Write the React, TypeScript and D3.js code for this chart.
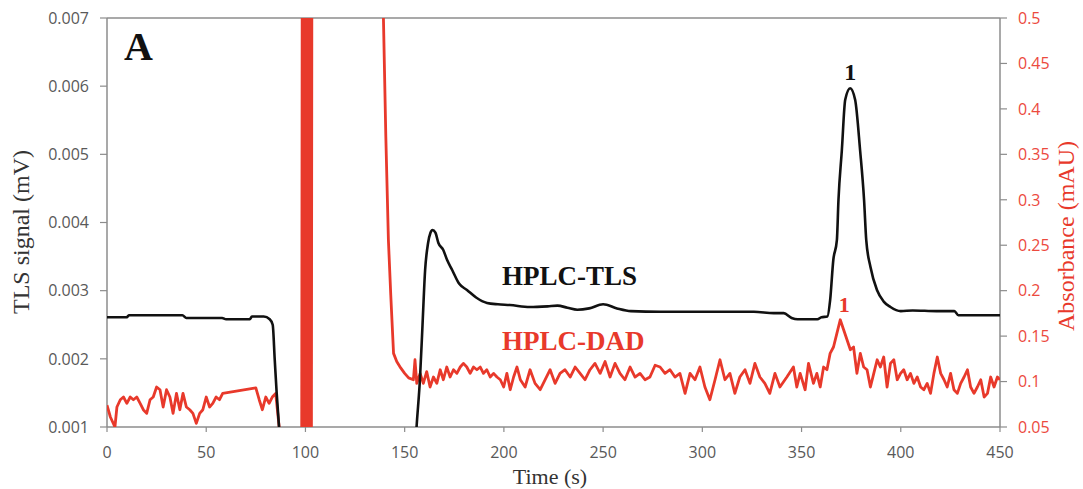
import React from 'react';
import * as d3 from 'd3';

// ---------- data ----------
const xTicks = [0, 50, 100, 150, 200, 250, 300, 350, 400, 450];
const leftTicks = [0.001, 0.002, 0.003, 0.004, 0.005, 0.006, 0.007];
const leftTickLabels = ['0.001', '0.002', '0.003', '0.004', '0.005', '0.006', '0.007'];
const rightTicks = [0.05, 0.1, 0.15, 0.2, 0.25, 0.3, 0.35, 0.4, 0.45, 0.5];
const rightTickLabels = ['0.05', '0.1', '0.15', '0.2', '0.25', '0.3', '0.35', '0.4', '0.45', '0.5'];

// HPLC-TLS signal (mV) vs time (s)
const tlsPoints: [number, number][] = [
  [0, 0.00261], [10, 0.00261], [11, 0.00264], [38, 0.00264], [40, 0.0026], [58, 0.0026],
  [60, 0.00258], [72, 0.00258], [73, 0.00262], [79, 0.00262], [82, 0.00258], [83.5, 0.0025],
  [84.5, 0.002], [85.5, 0.0015], [86.7, 0.001], [88, 0.0005], [155, 0.0005], [156, 0.001],
  [157.7, 0.0017], [159, 0.0025], [160.3, 0.0033], [161.8, 0.0037], [163, 0.00385], [164, 0.00389],
  [165.5, 0.00385], [167, 0.0037], [169.4, 0.0036], [171.4, 0.00345], [174, 0.0033], [177.5, 0.0031],
  [181.4, 0.00301], [186, 0.0029], [191.5, 0.00282], [197, 0.0028], [203, 0.00279], [213, 0.00276],
  [222, 0.00277], [227, 0.00278], [232, 0.00275], [237, 0.00272], [243, 0.00274], [250, 0.0028],
  [257, 0.00274], [264, 0.0027], [279, 0.00269], [326, 0.00269], [336, 0.00267], [341, 0.00267],
  [345, 0.0026], [348, 0.00258], [358, 0.00258], [360, 0.00261], [363, 0.00262], [364.4, 0.00286],
  [366, 0.00345], [367.8, 0.00374], [368.6, 0.00433], [370.3, 0.00506], [372, 0.0058], [374.5, 0.00597],
  [377, 0.0058], [379.5, 0.00506], [381.5, 0.00433], [382.6, 0.00374], [384.7, 0.00335], [388, 0.00301],
  [391.4, 0.00284], [394.8, 0.00276], [400, 0.0027], [406, 0.00271], [418, 0.0027], [427, 0.0027],
  [429, 0.00264], [450, 0.00264],
];

// HPLC-DAD absorbance (mAU) vs time (s)
const dadStart: [number, number][] = [
  [0, 0.074], [1.7, 0.061], [4, 0.05], [5, 0.072], [6.7, 0.08], [8.3, 0.083], [10, 0.076],
  [11.7, 0.083], [13.3, 0.08], [15, 0.083], [16.7, 0.076], [18.3, 0.069], [20, 0.065], [21.7, 0.08],
  [23.3, 0.083], [25, 0.094], [26.7, 0.091], [28.3, 0.072], [30, 0.091], [31.7, 0.083], [33.3, 0.065],
  [35, 0.087], [36.7, 0.069], [38.3, 0.087], [40, 0.072], [41.7, 0.069], [43.3, 0.065], [45, 0.054],
  [46.7, 0.065], [48.3, 0.069], [50, 0.083], [51.7, 0.072], [53.3, 0.076], [55, 0.083], [56.7, 0.08],
  [58.3, 0.087], [75, 0.093], [76.7, 0.08], [78.3, 0.069], [80, 0.083], [81.7, 0.076], [83.3, 0.083],
  [85, 0.087], [87, 0.045], [88, 0.0],
];
const dadSpike: [number, number][] = [
  [98.1, 0.0], [98.45, 0.7], [98.8, 0.0], [99.15, 0.7], [99.5, 0.0], [99.85, 0.7], [100.2, 0.0],
  [100.55, 0.7], [100.9, 0.0], [101.25, 0.7], [101.6, 0.0], [101.95, 0.7], [102.3, 0.0], [102.65, 0.7],
  [103.0, 0.0], [103.3, 0.7], [139.0, 0.7],
];
const dadDescent: [number, number][] = [
  [139.3, 0.5], [140.5, 0.37], [141.8, 0.256], [143, 0.195], [144.4, 0.131], [146, 0.122],
  [148, 0.115], [150, 0.109], [152, 0.104], [154.4, 0.102],
];
const dadNoise: [number, number][] = [
  [155.2, 0.124], [156.1, 0.098], [157.8, 0.109], [159.4, 0.098], [161.1, 0.111], [162.8, 0.094],
  [164.5, 0.105], [166.2, 0.098], [167.9, 0.113], [169.5, 0.102], [171.2, 0.116], [172.9, 0.105],
  [174.6, 0.113], [176.3, 0.109], [178, 0.116], [179.6, 0.12], [181.3, 0.116], [183, 0.109],
  [184.7, 0.116], [186.4, 0.113], [188.1, 0.116], [189.7, 0.109], [191.4, 0.113], [193.1, 0.105],
  [194.8, 0.109], [196.5, 0.105], [198.2, 0.102], [199.9, 0.094], [201.5, 0.109], [203.2, 0.091],
  [204.9, 0.105], [206.6, 0.116], [208.3, 0.102], [210.7, 0.094], [213.2, 0.113], [215.7, 0.098],
  [218.3, 0.091], [220.8, 0.102], [223.3, 0.113], [225.8, 0.098], [228.3, 0.109], [230.8, 0.113],
  [233.4, 0.105], [235.9, 0.116], [238.4, 0.109], [240.9, 0.102], [243.4, 0.113], [245.9, 0.12],
  [248.5, 0.109], [251, 0.122], [253.5, 0.105], [256, 0.12], [258.5, 0.109], [261, 0.102],
  [263.6, 0.116], [266.1, 0.105], [268.6, 0.109], [271.1, 0.102], [273.6, 0.105], [276.2, 0.118],
  [278.7, 0.116], [281.2, 0.109], [283.7, 0.113], [286.2, 0.105], [288.7, 0.109], [291.3, 0.087],
  [293.8, 0.109], [296.3, 0.102], [298.8, 0.116], [301.3, 0.094], [303.8, 0.08], [306.4, 0.102],
  [308.9, 0.124], [311.4, 0.102], [313.9, 0.109], [316.4, 0.087], [318.9, 0.105], [321.5, 0.113],
  [324, 0.098], [326.5, 0.12], [329, 0.105], [331.5, 0.098], [334, 0.087], [336.6, 0.109],
  [339.1, 0.094], [342.6, 0.105], [345.9, 0.116], [347.6, 0.094], [349.3, 0.109], [351.8, 0.091],
  [353.5, 0.12], [356, 0.098], [357.7, 0.109], [359.4, 0.094], [361.1, 0.116], [362.8, 0.113],
  [364.4, 0.131], [366.1, 0.138], [367.8, 0.153], [369.5, 0.168], [371.2, 0.157], [372.9, 0.146],
  [374.6, 0.135], [376.2, 0.138], [377.9, 0.109], [379.6, 0.131], [381.3, 0.116], [383, 0.113],
  [384.7, 0.094], [386.4, 0.109], [388.1, 0.124], [389.7, 0.116], [391.4, 0.127], [393.1, 0.094],
  [394.8, 0.12], [396.5, 0.124], [398.2, 0.102], [399.9, 0.109], [401.5, 0.113], [403.2, 0.102],
  [404.9, 0.109], [406.6, 0.098], [408.3, 0.105], [410, 0.094], [411.6, 0.091], [413.3, 0.098],
  [415, 0.087], [416.7, 0.109], [418.4, 0.127], [420.1, 0.109], [421.8, 0.102], [423.4, 0.094],
  [425.1, 0.109], [426.8, 0.091], [428.5, 0.087], [430.2, 0.098], [431.9, 0.105], [433.6, 0.113],
  [435.2, 0.094], [436.9, 0.087], [438.6, 0.094], [440.3, 0.102], [442, 0.083], [443.7, 0.087],
  [445.3, 0.105], [447, 0.094], [448.7, 0.105], [450, 0.102],
];

// ---------- layout ----------
const W = 1083;
const H = 489;
const X0 = 107;
const X1 = 1000;
const Y0 = 18;
const Y1 = 427;

const RED = '#e8392b';
const AXIS = '#8c8c8c';
const TICKTXT = '#595959';

export default function App() {
  const x = d3.scaleLinear().domain([0, 450]).range([X0, X1]);
  const yL = d3.scaleLinear().domain([0.001, 0.007]).range([Y1, Y0]);
  const yR = d3.scaleLinear().domain([0.05, 0.5]).range([Y1, Y0]);

  const tlsLine = d3
    .line<[number, number]>()
    .x((d) => x(d[0]))
    .y((d) => yL(d[1]))
    .curve(d3.curveMonotoneX);
  const dadLine = d3
    .line<[number, number]>()
    .x((d) => x(d[0]))
    .y((d) => yR(d[1]));

  const dadAll = [...dadStart, ...dadSpike, ...dadDescent, ...dadNoise];

  return (
    <svg
      width={W}
      height={H}
      style={{ position: 'absolute', left: 0, top: 0, background: '#fff' }}
    >
      <defs>
        <clipPath id="plot">
          <rect x={X0} y={Y0} width={X1 - X0} height={Y1 - Y0} />
        </clipPath>
      </defs>
      <rect x={0} y={0} width={W} height={H} fill="#fff" />

      {/* frame */}
      <line x1={X0} x2={X1} y1={Y0} y2={Y0} stroke={AXIS} strokeWidth={1.5} />
      <line x1={X0} x2={X1} y1={Y1} y2={Y1} stroke={AXIS} strokeWidth={1.5} />
      <line x1={X0} x2={X0} y1={Y0} y2={Y1} stroke={AXIS} strokeWidth={1.5} />
      <line x1={X1} x2={X1} y1={Y0} y2={Y1} stroke={AXIS} strokeWidth={1.5} />

      {/* x ticks */}
      {xTicks.map((t) => (
        <g key={'x' + t}>
          <line x1={x(t)} x2={x(t)} y1={Y1} y2={Y1 + 5} stroke={AXIS} strokeWidth={1.2} />
          <text
            x={x(t)}
            y={458}
            textAnchor="middle"
            fontFamily="'Open Sans', sans-serif"
            fontSize={16}
            fill={TICKTXT}
          >
            {t}
          </text>
        </g>
      ))}

      {/* left ticks */}
      {leftTicks.map((t, i) => (
        <g key={'l' + i}>
          <line x1={X0 - 7} x2={X0} y1={yL(t)} y2={yL(t)} stroke={AXIS} strokeWidth={1.2} />
          <text
            x={89}
            y={yL(t)}
            dy="0.36em"
            textAnchor="end"
            fontFamily="'Open Sans', sans-serif"
            fontSize={16}
            fill={TICKTXT}
          >
            {leftTickLabels[i]}
          </text>
        </g>
      ))}

      {/* right ticks */}
      {rightTicks.map((t, i) => (
        <g key={'r' + i}>
          <line x1={X1} x2={X1 + 7} y1={yR(t)} y2={yR(t)} stroke={AXIS} strokeWidth={1.2} />
          <text
            x={1018}
            y={yR(t)}
            dy="0.36em"
            textAnchor="start"
            fontFamily="'Open Sans', sans-serif"
            fontSize={16}
            fill="#ec4a3e"
          >
            {rightTickLabels[i]}
          </text>
        </g>
      ))}

      {/* series */}
      <g clipPath="url(#plot)">
        <path d={dadLine(dadAll) || ''} fill="none" stroke={RED} strokeWidth={2.8} strokeLinejoin="round" />
        <path d={tlsLine(tlsPoints) || ''} fill="none" stroke="#111" strokeWidth={2.6} strokeLinejoin="round" />
      </g>

      {/* annotations */}
      <text x={124} y={60} fontFamily="'Liberation Serif', serif" fontWeight="bold" fontSize={40} fill="#111">
        A
      </text>
      <text x={x(374.5)} y={80} textAnchor="middle" fontFamily="'Liberation Serif', serif" fontWeight="bold" fontSize={24} fill="#111">
        1
      </text>
      <text x={x(371.5)} y={312} textAnchor="middle" fontFamily="'Liberation Serif', serif" fontWeight="bold" fontSize={22} fill={RED}>
        1
      </text>
      <text x={502} y={285} fontFamily="'Liberation Serif', serif" fontWeight="bold" fontSize={27} fill="#111">
        HPLC-TLS
      </text>
      <text x={502} y={350} fontFamily="'Liberation Serif', serif" fontWeight="bold" fontSize={27} fill={RED}>
        HPLC-DAD
      </text>

      {/* axis titles */}
      <text x={550} y={484} textAnchor="middle" fontFamily="'Liberation Serif', serif" fontSize={22} fill="#333">
        Time (s)
      </text>
      <text
        transform="translate(29,232) rotate(-90)"
        textAnchor="middle"
        fontFamily="'Liberation Serif', serif"
        fontSize={24}
        fill="#333"
      >
        TLS signal (mV)
      </text>
      <text
        transform="translate(1074,236) rotate(-90)"
        textAnchor="middle"
        fontFamily="'Liberation Serif', serif"
        fontSize={24}
        fill={RED}
      >
        Absorbance (mAU)
      </text>
    </svg>
  );
}
